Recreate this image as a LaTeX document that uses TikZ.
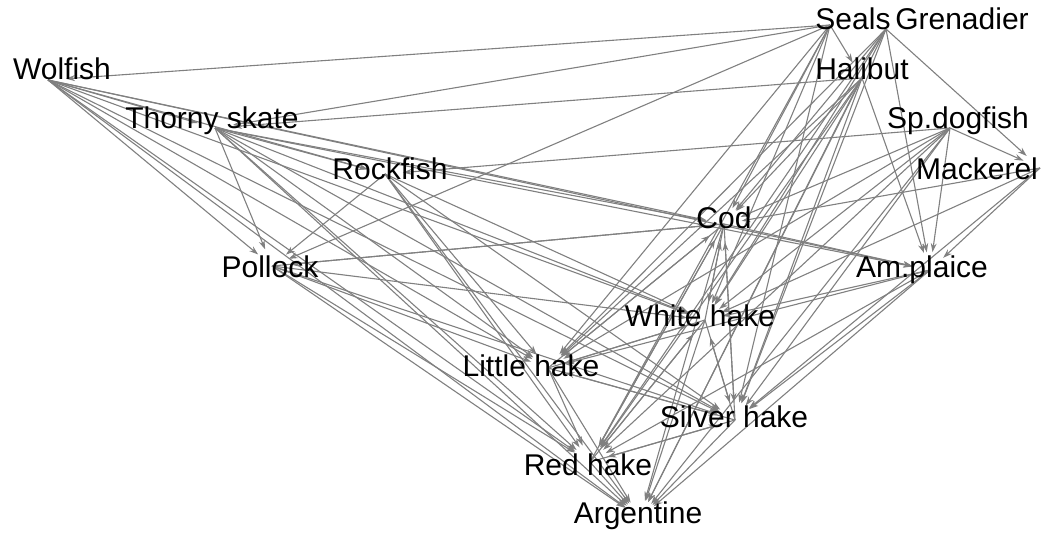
\documentclass[tikz,border=0pt]{standalone}
\usepackage{fontspec}
\setmainfont{Liberation Sans}
\usetikzlibrary{arrows.meta}
\definecolor{edgegray}{RGB}{128,128,128}
\begin{document}
\begin{tikzpicture}[x=1pt,y=-1pt,
  edge/.style={draw=edgegray,line width=1.1pt,
    -{Stealth[length=9pt,width=6pt]},shorten >=18pt},
  lbl/.style={anchor=base,inner sep=0pt,text=black,
    font=\fontsize{30}{34}\selectfont}]
\useasboundingbox (0,0) rectangle (1044,535);
% vertex positions
\coordinate (wolf)    at (48,80);
\coordinate (thorny)  at (215,128);
\coordinate (rock)    at (385,174);
\coordinate (poll)    at (272,266);
\coordinate (seals)   at (830,25);
\coordinate (gren)    at (886,29);
\coordinate (hal)     at (862,78);
\coordinate (dog)     at (950,128);
\coordinate (mack)    at (1040,168);
\coordinate (cod)     at (724,224);
\coordinate (plaice)  at (930,270);
\coordinate (white)   at (705,320);
\coordinate (little)  at (548,368);
\coordinate (silver)  at (735,420);
\coordinate (red)     at (590,462);
\coordinate (arg)     at (640,518);
% feeding links, predator -> prey
\foreach \s/\t in {
  seals/wolf, seals/thorny, seals/poll, seals/hal, seals/cod, seals/little,
  seals/red, seals/white, seals/silver,
  gren/mack, gren/plaice, gren/cod, gren/white, gren/silver, gren/red,
  gren/arg, gren/little,
  hal/thorny, hal/cod, hal/white, hal/little, hal/silver, hal/red, hal/arg,
  hal/plaice,
  dog/mack, dog/rock, dog/cod, dog/white, dog/silver, dog/plaice, dog/little,
  dog/red, dog/arg,
  mack/cod, mack/plaice, mack/silver, mack/white,
  cod/plaice, cod/white, cod/little, cod/silver, cod/red, cod/arg, cod/poll,
  thorny/poll, thorny/rock, thorny/cod, thorny/plaice, thorny/white,
  thorny/little, thorny/silver, thorny/red, thorny/arg,
  wolf/thorny, wolf/poll, wolf/cod, wolf/plaice, wolf/rock, wolf/little,
  wolf/red, wolf/arg, wolf/silver, wolf/white,
  rock/poll, rock/little, rock/silver, rock/red, rock/arg, rock/white,
  poll/little, poll/silver, poll/red, poll/arg, poll/white, poll/cod,
  white/little, white/silver, white/red, white/arg, white/cod,
  little/silver, little/red, little/arg, little/white, little/cod,
  silver/red, silver/arg, silver/white, silver/cod, silver/little,
  red/arg, red/silver, red/white, red/cod,
  plaice/white, plaice/silver, plaice/little, plaice/red, plaice/arg}
  \draw[edge] (\s) -- (\t);
% species labels
\node[lbl] (l-seals)  at (853,30)  {Seals};
\node[lbl] (l-gren)   at (962,30)  {Grenadier};
\node[lbl] (l-hal)    at (862,80)  {Halibut};
\node[lbl] (l-wolf)   at (62,80)   {Wolfish};
\node[lbl] (l-thorny) at (212,128) {Thorny skate};
\node[lbl] (l-dog)    at (958,128) {Sp.dogfish};
\node[lbl] (l-rock)   at (390,179) {Rockfish};
\node[lbl] (l-mack)   at (977,179) {Mackerel};
\node[lbl] (l-cod)    at (724,228) {Cod};
\node[lbl] (l-poll)   at (270,277) {Pollock};
\node[lbl] (l-plaice) at (922,277) {Am.plaice};
\node[lbl] (l-white)  at (700,326) {White hake};
\node[lbl] (l-little) at (531,376) {Little hake};
\node[lbl] (l-silver) at (734,427) {Silver hake};
\node[lbl] (l-red)    at (588,475) {Red hake};
\node[lbl] (l-arg)    at (638,523) {Argentine};
\end{tikzpicture}
\end{document}
